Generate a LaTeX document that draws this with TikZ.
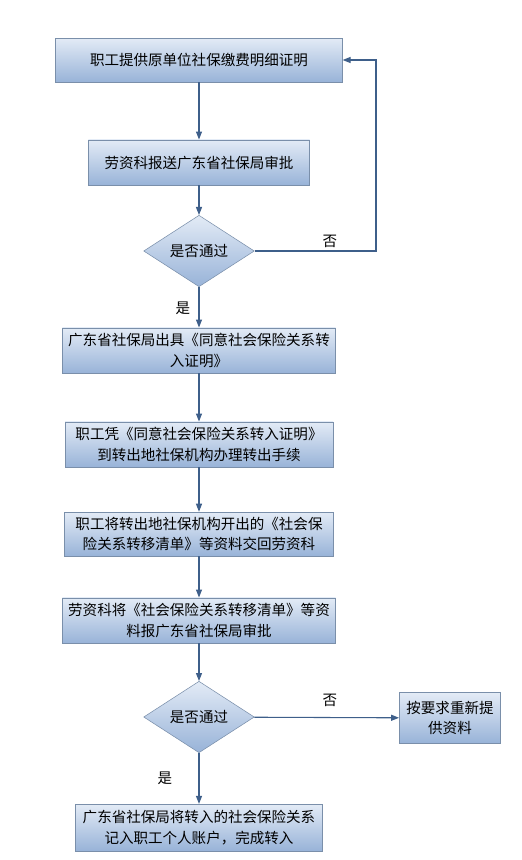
\documentclass[tikz,border=0pt]{standalone}
\usepackage{fontspec}
\usepackage{xcolor}
\usepackage{tikz}
\usetikzlibrary{shapes.geometric, arrows.meta}
\newfontfamily\cjk{Noto Sans CJK SC}
\definecolor{BoxTop}{HTML}{E3EBF6}
\definecolor{BoxBottom}{HTML}{98B3D8}
\definecolor{BoxEdge}{HTML}{7A8FAA}
\definecolor{FlowLine}{HTML}{3E5F8A}

\begin{document}
\begin{tikzpicture}[x=0.75pt, y=-0.75pt,
    every node/.style={font=\cjk\fontsize{10.9}{15.5}\selectfont},
    stepbox/.style={rectangle, draw=BoxEdge, top color=BoxTop, bottom color=BoxBottom, align=center, inner sep=0pt},
    check/.style={diamond, draw=BoxEdge, top color=BoxTop, bottom color=BoxBottom, inner sep=0pt, minimum width=83pt, minimum height=50pt},
    flow/.style={draw=FlowLine, line width=0.8pt, -{Triangle[length=6pt, width=4.5pt]}}]
    \useasboundingbox (0,0) rectangle (521,860);

    % Drawing the boxes
    \node[stepbox, minimum width=215pt, minimum height=33pt] (provide) at (199,60) {职工提供原单位社保缴费明细证明};
    \node[stepbox, minimum width=166pt, minimum height=34pt] (submit) at (199,162.5) {劳资科报送广东省社保局审批};
    \node[check] (pass1) at (199,251) {是否通过};
    \node[stepbox, minimum width=205pt, minimum height=34pt] (issue) at (199,350.5) {广东省社保局出具《同意社会保险关系转\\入证明》};
    \node[stepbox, minimum width=201pt, minimum height=34pt] (transfer) at (199,444.5) {职工凭《同意社会保险关系转入证明》\\到转出地社保机构办理转出手续};
    \node[stepbox, minimum width=202pt, minimum height=33pt] (handin) at (199,534) {职工将转出地社保机构开出的《社会保\\险关系转移清单》等资料交回劳资科};
    \node[stepbox, minimum width=205pt, minimum height=34pt] (report) at (199,620.5) {劳资科将《社会保险关系转移清单》等资\\料报广东省社保局审批};
    \node[check] (pass2) at (199,717) {是否通过};
    \node[stepbox, minimum width=76pt, minimum height=38pt] (redo) at (450,718) {按要求重新提\\供资料};
    \node[stepbox, minimum width=185pt, minimum height=35pt] (record) at (199,827.5) {广东省社保局将转入的社会保险关系\\记入职工个人账户，完成转入};

    % Drawing the connectors
    \draw[flow] (provide) -- (submit);
    \draw[flow] (submit) -- (pass1);
    \draw[flow] (pass1) -- (issue);
    \draw[flow] (issue) -- (transfer);
    \draw[flow] (transfer) -- (handin);
    \draw[flow] (handin) -- (report);
    \draw[flow] (report) -- (pass2);
    \draw[flow] (pass2) -- (redo);
    \draw[flow] (pass2) -- (record);
    \coordinate (back) at (376,251);
    \draw[flow] (pass1.east) -- (back) |- (provide.east);

    % Drawing the labels
    \node (no1) at (330,241) {否};
    \node (yes1) at (183,308) {是};
    \node (no2) at (330,700) {否};
    \node (yes2) at (165,778) {是};
\end{tikzpicture}
\end{document}
